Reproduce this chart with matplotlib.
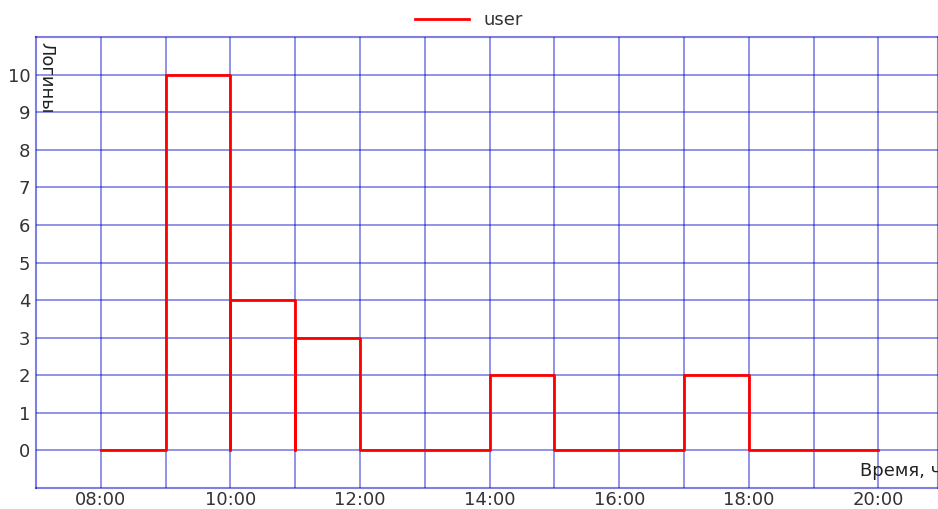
import numpy as np
import matplotlib.pyplot as plt

hours = [8, 9, 10, 11, 12, 13, 14, 15, 16, 17, 18, 19]
logins = [0, 10, 4, 3, 0, 0, 2, 0, 0, 2, 0, 0]
xticks = [8, 10, 12, 14, 16, 18, 20]
xticklabels = ['08:00', '10:00', '12:00', '14:00', '16:00', '18:00', '20:00']

# outline of each hourly bar, dropping to zero between bars
xs, ys = [], []
for h, v in zip(hours, logins):
    xs += [h, h, h + 1, h + 1]
    ys += [0, v, v, 0]

fig = plt.figure(figsize=(9.38, 5.09), dpi=100)
ax = fig.add_axes([36 / 938, 21 / 509, 1 - 36 / 938, 451 / 509])

ax.plot(xs, ys, color='red', lw=2, label='user', zorder=3)

ax.set_xlim(7, 7 + 902 / 64.8)
ax.set_ylim(-1, 11)
ax.set_xticks(xticks)
ax.set_xticklabels(xticklabels)
ax.set_xticks(np.arange(8, 21), minor=True)
ax.set_yticks(range(0, 11))
ax.grid(True, which='both', color='#0000cc', alpha=0.5, lw=1.2)
ax.tick_params(which='both', length=0, labelsize=13, labelcolor='#333333')
ax.tick_params(axis='x', pad=2)
ax.tick_params(axis='y', pad=4)
for s in ax.spines.values():
    s.set_color('#0000cc')
    s.set_alpha(0.5)
    s.set_linewidth(1.5)

ax.text(0.002, 0.99, 'Логины', transform=ax.transAxes, rotation=270,
        ha='left', va='top', fontsize=13, color='#222222')
ax.text(20.0 - 0.29, -0.78, 'Время, ч', ha='left', va='bottom',
        fontsize=13, color='#222222')

fig.legend(loc='upper center', bbox_to_anchor=(0.5, 1.01), frameon=False,
           fontsize=13, handlelength=3.0, labelcolor='#333333')

fig.savefig('out.png', dpi=100)
